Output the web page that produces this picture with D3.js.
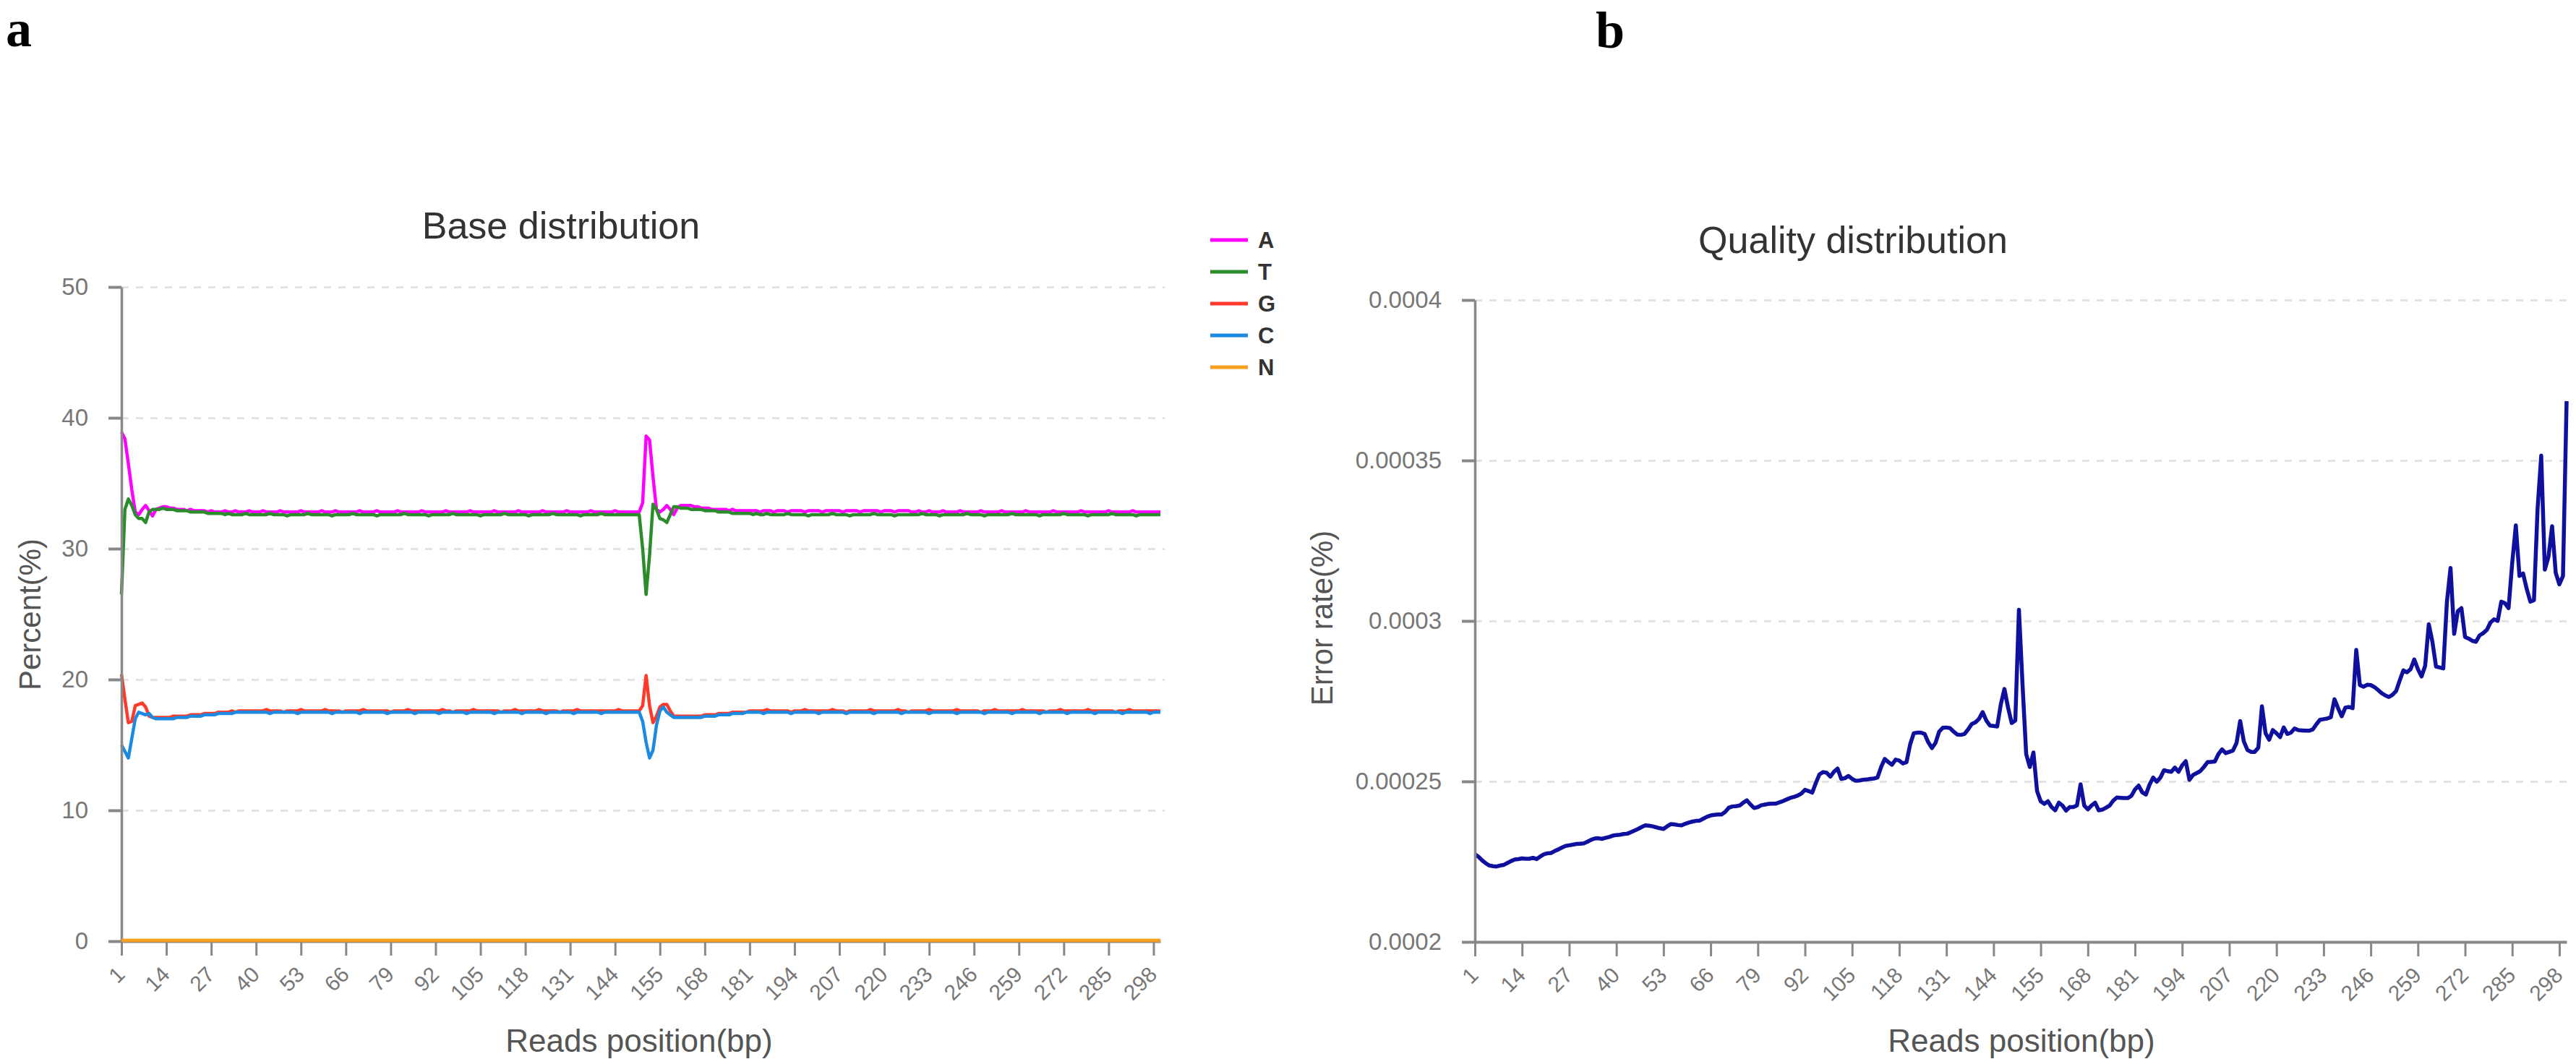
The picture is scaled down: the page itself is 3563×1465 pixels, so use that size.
<!DOCTYPE html>
<html>
<head>
<meta charset="utf-8">
<script src="https://cdn.jsdelivr.net/npm/d3@7"></script>
<style>
  body { margin: 0; background: #fff; }
  svg text { font-family: "Liberation Sans", Arial, sans-serif; }
</style>
</head>
<body>
<svg id="chart" width="3563" height="1465"></svg>
<script>
// read positions: read 1 (1..151) followed by read 2 (150..300)
const positions = d3.range(1, 152).concat(d3.range(150, 301))

const xTickLabels = [1, 14, 27, 40, 53, 66, 79, 92, 105, 118, 131, 144, 155, 168, 181, 194, 207, 220, 233, 246, 259, 272, 285, 298]
const percentTicks = [0, 10, 20, 30, 40, 50]
const errorTicks = [0.0002, 0.00025, 0.0003, 0.00035, 0.0004]

const baseNames = ['A', 'T', 'G', 'C', 'N']
const baseColors = ['#ff00ff', '#2b8c2b', '#ff3a2a', '#1c8ae0', '#f7a020']

const baseA = [
  38.9, 38.4, 36.5, 34.5, 32.8, 32.6, 33.0, 33.3, 32.9, 32.5, 33.0, 33.1, 33.2, 33.2, 33.1, 33.1, 33.0, 33.0, 33.0, 32.9,
  33.0, 32.9, 32.9, 32.9, 32.9, 32.8, 32.9, 32.8, 32.8, 32.8, 32.9, 32.8, 32.8, 32.9, 32.8, 32.8, 32.8, 32.9, 32.8, 32.8,
  32.8, 32.9, 32.8, 32.8, 32.8, 32.8, 32.9, 32.8, 32.8, 32.8, 32.8, 32.8, 32.9, 32.8, 32.8, 32.8, 32.8, 32.8, 32.9, 32.8,
  32.8, 32.8, 32.9, 32.8, 32.8, 32.8, 32.8, 32.8, 32.8, 32.9, 32.8, 32.8, 32.8, 32.8, 32.9, 32.8, 32.8, 32.8, 32.8, 32.8,
  32.9, 32.8, 32.8, 32.8, 32.8, 32.8, 32.8, 32.9, 32.8, 32.8, 32.8, 32.8, 32.8, 32.8, 32.9, 32.8, 32.8, 32.8, 32.8, 32.8,
  32.8, 32.9, 32.8, 32.8, 32.8, 32.8, 32.8, 32.8, 32.9, 32.8, 32.8, 32.8, 32.8, 32.8, 32.8, 32.9, 32.8, 32.8, 32.8, 32.8,
  32.8, 32.8, 32.9, 32.8, 32.8, 32.8, 32.8, 32.8, 32.8, 32.9, 32.8, 32.8, 32.8, 32.8, 32.8, 32.8, 32.9, 32.8, 32.8, 32.8,
  32.8, 32.8, 32.8, 32.9, 32.8, 32.8, 32.8, 32.8, 32.8, 32.8, 32.8, 33.5, 38.6, 38.3, 35.5, 33.0, 32.8, 33.0, 33.3, 33.0,
  32.6, 33.1, 33.3, 33.3, 33.3, 33.3, 33.2, 33.2, 33.1, 33.1, 33.1, 33.0, 33.0, 33.0, 33.0, 33.0, 32.9, 33.0, 32.9, 32.9,
  32.9, 32.9, 32.9, 32.9, 32.9, 32.8, 32.9, 32.9, 32.9, 32.8, 32.9, 32.9, 32.9, 32.8, 32.9, 32.9, 32.9, 32.9, 32.8, 32.9,
  32.9, 32.9, 32.9, 32.8, 32.9, 32.9, 32.9, 32.9, 32.9, 32.8, 32.9, 32.9, 32.9, 32.9, 32.8, 32.9, 32.9, 32.9, 32.9, 32.9,
  32.8, 32.9, 32.9, 32.9, 32.8, 32.9, 32.9, 32.9, 32.9, 32.8, 32.8, 32.9, 32.8, 32.8, 32.9, 32.8, 32.8, 32.8, 32.9, 32.8,
  32.8, 32.8, 32.8, 32.9, 32.8, 32.8, 32.8, 32.8, 32.8, 32.9, 32.8, 32.8, 32.8, 32.8, 32.8, 32.9, 32.8, 32.8, 32.8, 32.8,
  32.8, 32.8, 32.9, 32.8, 32.8, 32.8, 32.8, 32.8, 32.8, 32.8, 32.9, 32.8, 32.8, 32.8, 32.8, 32.8, 32.8, 32.8, 32.9, 32.8,
  32.8, 32.8, 32.8, 32.8, 32.8, 32.8, 32.9, 32.8, 32.8, 32.8, 32.8, 32.8, 32.8, 32.9, 32.8, 32.8, 32.8, 32.8, 32.8, 32.8,
  32.8, 32.8
]

const baseT = [
  26.5, 33.0, 33.8, 33.3, 32.6, 32.3, 32.3, 32.0, 32.8, 33.0, 33.0, 33.0, 33.1, 33.0, 33.0, 33.0, 32.9, 32.9, 32.9, 32.9,
  32.8, 32.8, 32.8, 32.8, 32.8, 32.7, 32.7, 32.7, 32.7, 32.7, 32.6, 32.7, 32.6, 32.6, 32.6, 32.6, 32.7, 32.6, 32.6, 32.6,
  32.6, 32.6, 32.6, 32.7, 32.6, 32.6, 32.6, 32.6, 32.5, 32.6, 32.6, 32.6, 32.6, 32.6, 32.7, 32.6, 32.6, 32.6, 32.6, 32.6,
  32.6, 32.5, 32.6, 32.6, 32.6, 32.6, 32.6, 32.7, 32.6, 32.6, 32.6, 32.6, 32.6, 32.6, 32.5, 32.6, 32.6, 32.6, 32.6, 32.6,
  32.6, 32.6, 32.7, 32.6, 32.6, 32.6, 32.6, 32.6, 32.6, 32.5, 32.6, 32.6, 32.6, 32.6, 32.6, 32.6, 32.7, 32.6, 32.6, 32.6,
  32.6, 32.6, 32.6, 32.6, 32.5, 32.6, 32.6, 32.6, 32.6, 32.6, 32.6, 32.7, 32.6, 32.6, 32.6, 32.6, 32.6, 32.6, 32.5, 32.6,
  32.6, 32.6, 32.6, 32.6, 32.6, 32.7, 32.6, 32.6, 32.6, 32.6, 32.6, 32.6, 32.6, 32.5, 32.6, 32.6, 32.6, 32.6, 32.6, 32.7,
  32.6, 32.6, 32.6, 32.6, 32.6, 32.6, 32.6, 32.6, 32.6, 32.6, 32.6, 30.0, 26.5, 29.5, 33.4, 33.0, 32.3, 32.2, 32.0, 32.6,
  33.2, 33.2, 33.1, 33.1, 33.1, 33.0, 33.0, 33.0, 33.0, 32.9, 32.9, 32.9, 32.9, 32.8, 32.8, 32.8, 32.8, 32.7, 32.7, 32.7,
  32.7, 32.7, 32.7, 32.6, 32.7, 32.6, 32.6, 32.7, 32.6, 32.6, 32.6, 32.6, 32.6, 32.7, 32.6, 32.6, 32.6, 32.6, 32.6, 32.5,
  32.6, 32.6, 32.6, 32.6, 32.6, 32.6, 32.7, 32.6, 32.6, 32.6, 32.6, 32.5, 32.6, 32.6, 32.6, 32.6, 32.6, 32.6, 32.7, 32.6,
  32.6, 32.6, 32.6, 32.6, 32.5, 32.6, 32.6, 32.6, 32.6, 32.6, 32.6, 32.6, 32.7, 32.6, 32.6, 32.6, 32.6, 32.5, 32.6, 32.6,
  32.6, 32.6, 32.6, 32.6, 32.6, 32.7, 32.6, 32.6, 32.6, 32.6, 32.5, 32.6, 32.6, 32.6, 32.6, 32.6, 32.6, 32.6, 32.7, 32.6,
  32.6, 32.6, 32.6, 32.6, 32.6, 32.6, 32.5, 32.6, 32.6, 32.6, 32.6, 32.6, 32.6, 32.7, 32.6, 32.6, 32.6, 32.6, 32.6, 32.6,
  32.5, 32.6, 32.6, 32.6, 32.6, 32.6, 32.6, 32.7, 32.6, 32.6, 32.6, 32.6, 32.6, 32.6, 32.5, 32.6, 32.6, 32.6, 32.6, 32.6,
  32.6, 32.6
]

const baseG = [
  20.4, 18.5, 16.7, 16.8, 18.0, 18.1, 18.2, 17.9, 17.2, 17.1, 17.1, 17.1, 17.1, 17.1, 17.1, 17.2, 17.2, 17.2, 17.2, 17.2,
  17.3, 17.3, 17.3, 17.3, 17.4, 17.4, 17.4, 17.4, 17.5, 17.5, 17.5, 17.5, 17.6, 17.5, 17.6, 17.6, 17.6, 17.6, 17.6, 17.6,
  17.6, 17.6, 17.7, 17.6, 17.6, 17.6, 17.6, 17.5, 17.6, 17.6, 17.6, 17.6, 17.7, 17.6, 17.6, 17.6, 17.6, 17.6, 17.6, 17.7,
  17.6, 17.6, 17.6, 17.6, 17.5, 17.6, 17.6, 17.6, 17.6, 17.6, 17.7, 17.6, 17.6, 17.6, 17.6, 17.6, 17.6, 17.6, 17.5, 17.6,
  17.6, 17.6, 17.6, 17.7, 17.6, 17.6, 17.6, 17.6, 17.6, 17.6, 17.6, 17.6, 17.6, 17.7, 17.6, 17.6, 17.5, 17.6, 17.6, 17.6,
  17.6, 17.6, 17.7, 17.6, 17.6, 17.6, 17.6, 17.6, 17.6, 17.6, 17.5, 17.6, 17.6, 17.6, 17.7, 17.6, 17.6, 17.6, 17.6, 17.6,
  17.6, 17.7, 17.6, 17.6, 17.6, 17.6, 17.6, 17.5, 17.6, 17.6, 17.6, 17.6, 17.7, 17.6, 17.6, 17.6, 17.6, 17.6, 17.6, 17.6,
  17.6, 17.6, 17.6, 17.6, 17.7, 17.6, 17.6, 17.6, 17.6, 17.6, 17.6, 18.0, 20.3, 18.0, 16.7, 17.2, 17.9, 18.1, 18.1, 17.6,
  17.2, 17.2, 17.2, 17.2, 17.2, 17.2, 17.2, 17.2, 17.2, 17.3, 17.3, 17.3, 17.3, 17.4, 17.4, 17.4, 17.4, 17.5, 17.5, 17.5,
  17.5, 17.5, 17.6, 17.6, 17.6, 17.6, 17.6, 17.7, 17.6, 17.6, 17.6, 17.6, 17.6, 17.6, 17.5, 17.6, 17.6, 17.6, 17.7, 17.6,
  17.6, 17.6, 17.6, 17.6, 17.6, 17.6, 17.7, 17.6, 17.6, 17.6, 17.5, 17.6, 17.6, 17.6, 17.6, 17.6, 17.6, 17.7, 17.6, 17.6,
  17.6, 17.6, 17.6, 17.6, 17.6, 17.7, 17.6, 17.6, 17.5, 17.6, 17.6, 17.6, 17.6, 17.6, 17.7, 17.6, 17.6, 17.6, 17.6, 17.6,
  17.6, 17.6, 17.7, 17.6, 17.6, 17.6, 17.6, 17.6, 17.6, 17.5, 17.6, 17.6, 17.6, 17.7, 17.6, 17.6, 17.6, 17.6, 17.6, 17.6,
  17.6, 17.7, 17.6, 17.6, 17.6, 17.6, 17.6, 17.6, 17.5, 17.6, 17.6, 17.6, 17.7, 17.6, 17.6, 17.6, 17.6, 17.6, 17.6, 17.6,
  17.7, 17.6, 17.6, 17.6, 17.6, 17.6, 17.6, 17.6, 17.5, 17.6, 17.6, 17.6, 17.7, 17.6, 17.6, 17.6, 17.6, 17.6, 17.6, 17.6,
  17.6, 17.6
]

const baseC = [
  15.0, 14.5, 14.0, 15.5, 17.0, 17.5, 17.4, 17.3, 17.4, 17.1, 17.0, 17.0, 17.0, 17.0, 17.0, 17.0, 17.1, 17.1, 17.1, 17.1,
  17.2, 17.2, 17.2, 17.2, 17.3, 17.3, 17.3, 17.3, 17.4, 17.4, 17.4, 17.4, 17.4, 17.5, 17.5, 17.5, 17.5, 17.5, 17.5, 17.5,
  17.5, 17.5, 17.5, 17.4, 17.5, 17.5, 17.5, 17.5, 17.5, 17.5, 17.5, 17.4, 17.5, 17.5, 17.5, 17.5, 17.5, 17.5, 17.5, 17.5,
  17.5, 17.4, 17.5, 17.5, 17.5, 17.5, 17.5, 17.5, 17.5, 17.4, 17.5, 17.5, 17.5, 17.5, 17.5, 17.5, 17.5, 17.4, 17.5, 17.5,
  17.5, 17.5, 17.5, 17.5, 17.5, 17.4, 17.5, 17.5, 17.5, 17.5, 17.5, 17.5, 17.4, 17.5, 17.5, 17.5, 17.5, 17.5, 17.5, 17.5,
  17.4, 17.5, 17.5, 17.5, 17.5, 17.5, 17.5, 17.5, 17.4, 17.5, 17.5, 17.5, 17.5, 17.5, 17.5, 17.5, 17.4, 17.5, 17.5, 17.5,
  17.5, 17.5, 17.5, 17.4, 17.5, 17.5, 17.5, 17.5, 17.5, 17.5, 17.5, 17.4, 17.5, 17.5, 17.5, 17.5, 17.5, 17.5, 17.5, 17.4,
  17.5, 17.5, 17.5, 17.5, 17.5, 17.5, 17.5, 17.5, 17.5, 17.5, 17.5, 16.8, 15.2, 14.0, 14.6, 16.5, 17.6, 17.9, 17.5, 17.3,
  17.1, 17.1, 17.1, 17.1, 17.1, 17.1, 17.1, 17.1, 17.1, 17.2, 17.2, 17.2, 17.2, 17.3, 17.3, 17.3, 17.3, 17.4, 17.4, 17.4,
  17.4, 17.5, 17.5, 17.5, 17.5, 17.5, 17.4, 17.5, 17.5, 17.5, 17.5, 17.5, 17.5, 17.5, 17.4, 17.5, 17.5, 17.5, 17.5, 17.5,
  17.5, 17.5, 17.4, 17.5, 17.5, 17.5, 17.5, 17.5, 17.5, 17.5, 17.4, 17.5, 17.5, 17.5, 17.5, 17.5, 17.5, 17.5, 17.4, 17.5,
  17.5, 17.5, 17.5, 17.5, 17.5, 17.5, 17.4, 17.5, 17.5, 17.5, 17.5, 17.5, 17.5, 17.5, 17.4, 17.5, 17.5, 17.5, 17.5, 17.5,
  17.5, 17.5, 17.4, 17.5, 17.5, 17.5, 17.5, 17.5, 17.5, 17.5, 17.4, 17.5, 17.5, 17.5, 17.5, 17.5, 17.5, 17.5, 17.4, 17.5,
  17.5, 17.5, 17.5, 17.5, 17.5, 17.5, 17.4, 17.5, 17.5, 17.5, 17.5, 17.5, 17.5, 17.5, 17.4, 17.5, 17.5, 17.5, 17.5, 17.5,
  17.5, 17.5, 17.4, 17.5, 17.5, 17.5, 17.5, 17.5, 17.5, 17.5, 17.4, 17.5, 17.5, 17.5, 17.5, 17.5, 17.5, 17.5, 17.4, 17.5,
  17.5, 17.5
]

const baseN = [
  0.05, 0.05, 0.05, 0.05, 0.05, 0.05, 0.05, 0.05, 0.05, 0.05, 0.05, 0.05, 0.05, 0.05, 0.05, 0.05, 0.05, 0.05, 0.05, 0.05,
  0.05, 0.05, 0.05, 0.05, 0.05, 0.05, 0.05, 0.05, 0.05, 0.05, 0.05, 0.05, 0.05, 0.05, 0.05, 0.05, 0.05, 0.05, 0.05, 0.05,
  0.05, 0.05, 0.05, 0.05, 0.05, 0.05, 0.05, 0.05, 0.05, 0.05, 0.05, 0.05, 0.05, 0.05, 0.05, 0.05, 0.05, 0.05, 0.05, 0.05,
  0.05, 0.05, 0.05, 0.05, 0.05, 0.05, 0.05, 0.05, 0.05, 0.05, 0.05, 0.05, 0.05, 0.05, 0.05, 0.05, 0.05, 0.05, 0.05, 0.05,
  0.05, 0.05, 0.05, 0.05, 0.05, 0.05, 0.05, 0.05, 0.05, 0.05, 0.05, 0.05, 0.05, 0.05, 0.05, 0.05, 0.05, 0.05, 0.05, 0.05,
  0.05, 0.05, 0.05, 0.05, 0.05, 0.05, 0.05, 0.05, 0.05, 0.05, 0.05, 0.05, 0.05, 0.05, 0.05, 0.05, 0.05, 0.05, 0.05, 0.05,
  0.05, 0.05, 0.05, 0.05, 0.05, 0.05, 0.05, 0.05, 0.05, 0.05, 0.05, 0.05, 0.05, 0.05, 0.05, 0.05, 0.05, 0.05, 0.05, 0.05,
  0.05, 0.05, 0.05, 0.05, 0.05, 0.05, 0.05, 0.05, 0.05, 0.05, 0.05, 0.05, 0.05, 0.05, 0.05, 0.05, 0.05, 0.05, 0.05, 0.05,
  0.05, 0.05, 0.05, 0.05, 0.05, 0.05, 0.05, 0.05, 0.05, 0.05, 0.05, 0.05, 0.05, 0.05, 0.05, 0.05, 0.05, 0.05, 0.05, 0.05,
  0.05, 0.05, 0.05, 0.05, 0.05, 0.05, 0.05, 0.05, 0.05, 0.05, 0.05, 0.05, 0.05, 0.05, 0.05, 0.05, 0.05, 0.05, 0.05, 0.05,
  0.05, 0.05, 0.05, 0.05, 0.05, 0.05, 0.05, 0.05, 0.05, 0.05, 0.05, 0.05, 0.05, 0.05, 0.05, 0.05, 0.05, 0.05, 0.05, 0.05,
  0.05, 0.05, 0.05, 0.05, 0.05, 0.05, 0.05, 0.05, 0.05, 0.05, 0.05, 0.05, 0.05, 0.05, 0.05, 0.05, 0.05, 0.05, 0.05, 0.05,
  0.05, 0.05, 0.05, 0.05, 0.05, 0.05, 0.05, 0.05, 0.05, 0.05, 0.05, 0.05, 0.05, 0.05, 0.05, 0.05, 0.05, 0.05, 0.05, 0.05,
  0.05, 0.05, 0.05, 0.05, 0.05, 0.05, 0.05, 0.05, 0.05, 0.05, 0.05, 0.05, 0.05, 0.05, 0.05, 0.05, 0.05, 0.05, 0.05, 0.05,
  0.05, 0.05, 0.05, 0.05, 0.05, 0.05, 0.05, 0.05, 0.05, 0.05, 0.05, 0.05, 0.05, 0.05, 0.05, 0.05, 0.05, 0.05, 0.05, 0.05,
  0.05, 0.05
]

const errorRate = [
  0.0002273, 0.0002265, 0.0002254, 0.0002245, 0.0002238, 0.0002236, 0.0002235, 0.0002238, 0.0002240, 0.0002246,
  0.0002252, 0.0002257, 0.0002258, 0.0002260, 0.0002259, 0.0002259, 0.0002262, 0.0002258, 0.0002266, 0.0002273,
  0.0002276, 0.0002277, 0.0002283, 0.0002288, 0.0002294, 0.0002299, 0.0002301, 0.0002303, 0.0002305, 0.0002306,
  0.0002307, 0.0002312, 0.0002318, 0.0002322, 0.0002323, 0.0002321, 0.0002324, 0.0002327, 0.0002331, 0.0002333,
  0.0002334, 0.0002336, 0.0002337, 0.0002342, 0.0002347, 0.0002352, 0.0002358, 0.0002363, 0.0002362, 0.0002360,
  0.0002357, 0.0002354, 0.0002352, 0.0002360, 0.0002367, 0.0002366, 0.0002364, 0.0002363, 0.0002368, 0.0002372,
  0.0002375, 0.0002377, 0.0002378, 0.0002384, 0.0002390, 0.0002394, 0.0002396, 0.0002397, 0.0002397, 0.0002405,
  0.0002418, 0.0002422, 0.0002423, 0.0002425, 0.0002434, 0.0002441, 0.0002428, 0.0002417, 0.0002420, 0.0002426,
  0.0002428, 0.0002430, 0.0002431, 0.0002431, 0.0002435, 0.0002439, 0.0002444, 0.0002449, 0.0002452, 0.0002456,
  0.0002462, 0.0002474, 0.0002470, 0.0002465, 0.0002495, 0.0002522, 0.0002529, 0.0002527, 0.0002515, 0.0002530,
  0.0002540, 0.0002508, 0.0002510, 0.0002517, 0.0002508, 0.0002502, 0.0002503, 0.0002505, 0.0002506, 0.0002508,
  0.0002509, 0.0002512, 0.0002545, 0.0002570, 0.0002560, 0.0002552, 0.0002568, 0.0002565, 0.0002556, 0.0002560,
  0.0002615, 0.0002650, 0.0002652, 0.0002652, 0.0002648, 0.0002622, 0.0002604, 0.0002620, 0.0002655, 0.0002667,
  0.0002668, 0.0002666, 0.0002655, 0.0002646, 0.0002645, 0.0002648, 0.0002662, 0.0002679, 0.0002684, 0.0002695,
  0.0002716, 0.0002690, 0.0002674, 0.0002673, 0.0002671, 0.0002740, 0.0002788, 0.0002730, 0.0002682, 0.0002690,
  0.0003035, 0.0002800, 0.0002585, 0.0002545, 0.0002590, 0.0002470, 0.0002438, 0.0002430, 0.0002438, 0.0002420,
  0.0002410, 0.0002434, 0.0002425, 0.0002409, 0.0002420, 0.0002420, 0.0002425, 0.0002491, 0.0002425, 0.0002413,
  0.0002425, 0.0002434, 0.0002410, 0.0002412, 0.0002418, 0.0002425, 0.0002440, 0.0002450, 0.0002449, 0.0002448,
  0.0002448, 0.0002455, 0.0002475, 0.0002487, 0.0002466, 0.0002459, 0.0002490, 0.0002512, 0.0002499, 0.0002512,
  0.0002535, 0.0002532, 0.0002530, 0.0002543, 0.0002530, 0.0002550, 0.0002563, 0.0002505, 0.0002520, 0.0002526,
  0.0002532, 0.0002545, 0.0002560, 0.0002561, 0.0002562, 0.0002585, 0.0002600, 0.0002588, 0.0002592, 0.0002596,
  0.0002620, 0.0002688, 0.0002625, 0.0002598, 0.0002592, 0.0002592, 0.0002605, 0.0002734, 0.0002650, 0.0002630,
  0.0002660, 0.0002650, 0.0002638, 0.0002668, 0.0002648, 0.0002652, 0.0002665, 0.0002660, 0.0002659, 0.0002658,
  0.0002658, 0.0002662, 0.0002678, 0.0002692, 0.0002694, 0.0002696, 0.0002700, 0.0002756, 0.0002728, 0.0002703,
  0.0002730, 0.0002732, 0.0002728, 0.0002910, 0.0002800, 0.0002795, 0.0002801, 0.0002800, 0.0002794, 0.0002785,
  0.0002775, 0.0002768, 0.0002763, 0.0002770, 0.0002782, 0.0002815, 0.0002846, 0.0002840, 0.0002850, 0.0002880,
  0.0002850, 0.0002827, 0.0002860, 0.0002990, 0.0002935, 0.0002858, 0.0002855, 0.0002852, 0.0003060, 0.0003165,
  0.0002960, 0.0003030, 0.0003040, 0.0002950, 0.0002945, 0.0002938, 0.0002935, 0.0002955, 0.0002962, 0.0002972,
  0.0002995, 0.0003005, 0.0003000, 0.0003060, 0.0003055, 0.0003040, 0.0003180, 0.0003298, 0.0003140, 0.0003148,
  0.0003100, 0.0003060, 0.0003065, 0.0003350, 0.0003515, 0.0003160, 0.0003200, 0.0003295, 0.0003150, 0.0003114,
  0.0003140, 0.0003685
]

const baseSeries = [baseA, baseT, baseG, baseC, baseN]

const svg = d3.select('#chart')
const AXIS = '#888'
const LABEL = '#777'

// x axis with rotated read-position labels
function drawXAxis (x, y0) {
  const g = svg.append('g')
    .attr('transform', 'translate(0,' + y0 + ')')
    .call(d3.axisBottom(x)
      .tickValues(xTickLabels.map(l => positions.lastIndexOf(l)))
      .tickFormat(i => positions[i])
      .tickSize(20)
      .tickSizeOuter(0))
  g.select('.domain').attr('stroke', AXIS).attr('stroke-width', 4)
  g.selectAll('.tick line').attr('stroke', AXIS).attr('stroke-width', 3)
  g.selectAll('.tick text')
    .attr('x', 0).attr('y', 0).attr('dy', null)
    .attr('fill', LABEL)
    .style('font-size', '30px')
    .attr('text-anchor', 'end')
    .attr('transform', 'translate(6,48) rotate(-45)')
}

function drawYAxis (y, x0, ticks, fmt) {
  const g = svg.append('g')
    .attr('transform', 'translate(' + x0 + ',0)')
    .call(d3.axisLeft(y)
      .tickValues(ticks)
      .tickFormat(fmt)
      .tickSize(18)
      .tickPadding(28)
      .tickSizeOuter(0))
  g.select('.domain').attr('stroke', AXIS).attr('stroke-width', 3.5)
  g.selectAll('.tick line').attr('stroke', AXIS).attr('stroke-width', 4)
  g.selectAll('.tick text').attr('fill', LABEL).style('font-size', '33px')
}

// dashed horizontal gridlines
function drawGrid (y, x0, width, ticks) {
  const g = svg.append('g')
    .attr('transform', 'translate(' + x0 + ',0)')
    .call(d3.axisLeft(y)
      .tickValues(ticks)
      .tickSize(-width)
      .tickFormat(''))
  g.select('.domain').remove()
  g.selectAll('.tick line')
    .attr('stroke', '#e3e3e3')
    .attr('stroke-width', 3)
    .attr('stroke-dasharray', '10,10')
}

function addText (str, x, y, size, fill, opts) {
  const t = svg.append('text')
    .attr('x', x).attr('y', y)
    .attr('fill', fill)
    .style('font-size', size + 'px')
    .attr('text-anchor', (opts && opts.anchor) || 'middle')
    .text(str)
  if (opts && opts.rotate) t.attr('transform', 'rotate(-90,' + x + ',' + y + ')')
  if (opts && opts.family) t.style('font-family', opts.family)
  if (opts && opts.weight) t.style('font-weight', opts.weight)
  return t
}

// panel labels
addText('a', 8, 64, 72, '#000', { anchor: 'start', family: '"Liberation Serif", "Times New Roman", serif', weight: 'bold' })
addText('b', 2207, 66, 72, '#000', { anchor: 'start', family: '"Liberation Serif", "Times New Roman", serif', weight: 'bold' })

// ---- a: base distribution ----
const xL = d3.scaleLinear().domain([0, positions.length - 1]).range([168, 1605])
const yL = d3.scaleLinear().domain([0, 50]).range([1302, 397])

drawGrid(yL, 168, 1443, percentTicks.slice(1))

const lineL = d3.line()
  .x((d, i) => xL(i))
  .y(d => yL(d))

baseSeries.forEach((s, k) => {
  svg.append('path')
    .datum(s)
    .attr('fill', 'none')
    .attr('stroke', baseColors[k])
    .attr('stroke-width', 4.5)
    .attr('stroke-linejoin', 'round')
    .attr('d', lineL)
})

drawYAxis(yL, 168, percentTicks, d3.format('d'))
drawXAxis(xL, 1302)

// orange N line sits on the axis, redraw it above
svg.append('path')
  .datum(baseN)
  .attr('fill', 'none')
  .attr('stroke', baseColors[4])
  .attr('stroke-width', 4.5)
  .attr('d', lineL)

addText('Base distribution', 776, 330, 52, '#333')
addText('Percent(%)', 56, 850, 42, '#555', { rotate: true })
addText('Reads position(bp)', 884, 1455, 44, '#555')

// legend
baseNames.forEach((name, k) => {
  const ly = 332 + k * 44
  svg.append('line')
    .attr('x1', 1674).attr('x2', 1726)
    .attr('y1', ly).attr('y2', ly)
    .attr('stroke', baseColors[k])
    .attr('stroke-width', 5)
  addText(name, 1740, ly + 11, 31, '#333', { anchor: 'start', weight: 'bold' })
})

// ---- b: quality distribution ----
const xR = d3.scaleLinear().domain([0, positions.length - 1]).range([2040, 3550])
const yR = d3.scaleLinear().domain([0.0002, 0.0004]).range([1303, 415])

drawGrid(yR, 2040, 1520, errorTicks.slice(1))

svg.append('path')
  .datum(errorRate)
  .attr('fill', 'none')
  .attr('stroke', '#10109e')
  .attr('stroke-width', 5.5)
  .attr('stroke-linejoin', 'round')
  .attr('d', d3.line()
    .x((d, i) => xR(i))
    .y(d => yR(d)))

drawYAxis(yR, 2040, errorTicks, d => String(+d.toFixed(5)))
drawXAxis(xR, 1303)

addText('Quality distribution', 2563, 350, 52, '#333')
addText('Error rate(%)', 1843, 855, 42, '#555', { rotate: true })
addText('Reads position(bp)', 2796, 1455, 44, '#555')
</script>
</body>
</html>
